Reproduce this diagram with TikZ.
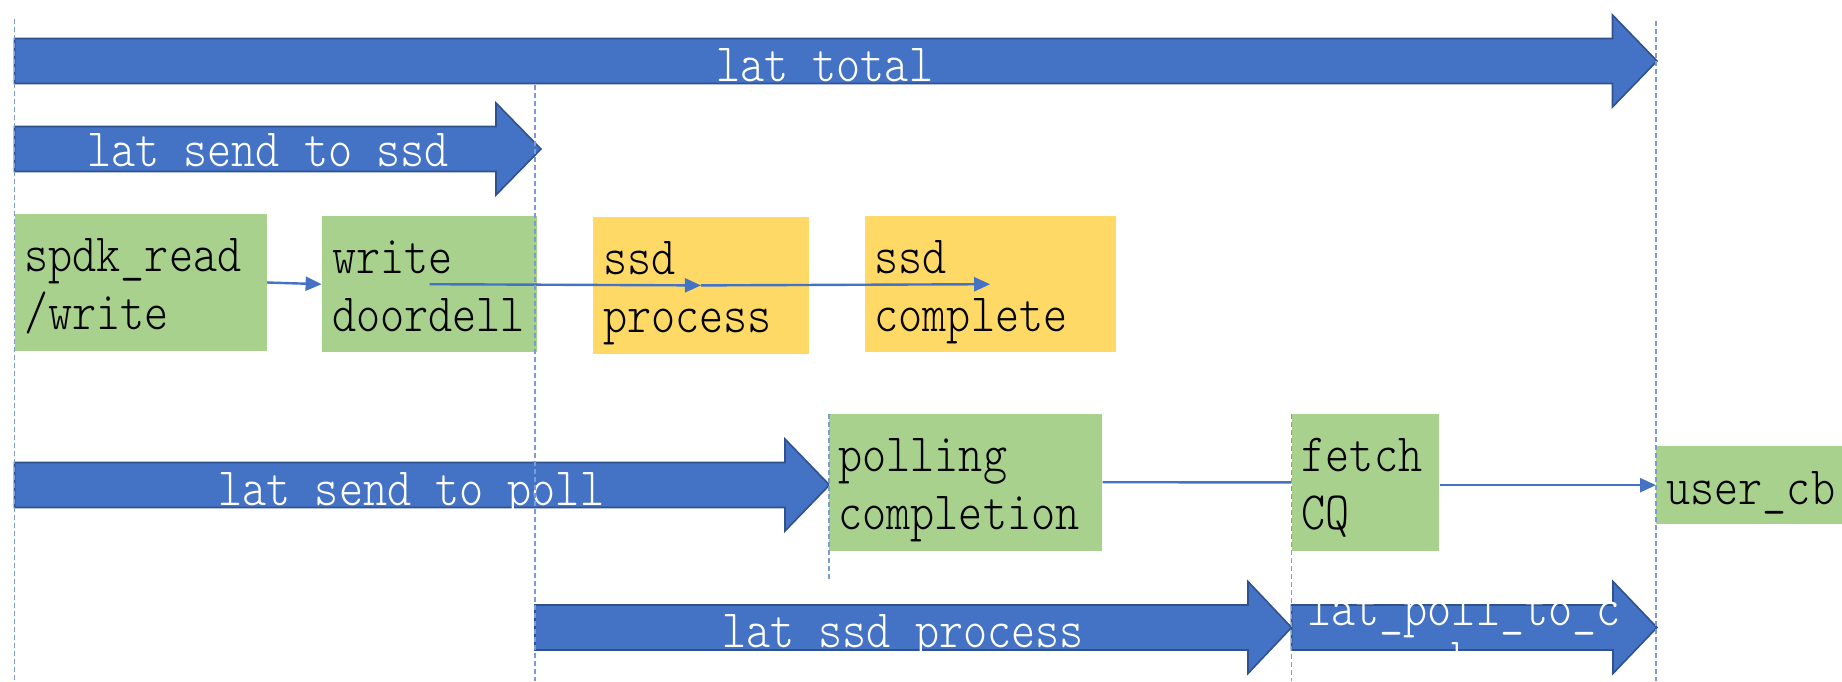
\documentclass[tikz,border=0pt]{standalone}
\usepackage{fontspec}
\usepackage{tikz}
\usetikzlibrary{positioning}
\usetikzlibrary{arrows.meta}
\newfontfamily\labfont{lmmonolt10-regular.otf}[FakeStretch=0.85]

\definecolor{latblue}{HTML}{4472C4}
\definecolor{latedge}{HTML}{2F528F}
\definecolor{stepgreen}{HTML}{A9D18E}
\definecolor{ssdyellow}{HTML}{FFD966}
\definecolor{guideblue}{HTML}{7A9BD6}

\tikzset{
  labtext/.style={font=\labfont\fontsize{27pt}{29pt}\selectfont},
  latarrow/.style={fill=latblue, draw=latedge, line width=0.8pt, line join=miter},
  lattext/.style={labtext, text=white, anchor=base, inner sep=0pt},
  stepbox/.style={labtext, fill=stepgreen, align=left, inner xsep=5pt, inner ysep=5.5pt,
    text height=23.25pt, text depth=34pt},
  ssdbox/.style={stepbox, fill=ssdyellow},
  flow/.style={draw=latblue, line width=1.2pt},
  guide/.style={draw=guideblue, line width=0.75pt, dash pattern=on 2.5pt off 1.5pt}
}

\begin{document}
\begin{tikzpicture}[x=0.5pt,y=-0.5pt,>={Triangle[length=8pt,width=7pt]}]
\useasboundingbox (0,0) rectangle (1842,681);
\clip (0,0) rectangle (1842,681);

% latency arrows
\draw[latarrow] (14.5,38.5) -- (1612.5,38.5) -- (1612.5,15) -- (1657,61) -- (1612.5,107) -- (1612.5,83.5) -- (14.5,83.5) -- cycle;
\draw[latarrow] (14.5,126.5) -- (496,126.5) -- (496,103) -- (541,149) -- (496,195) -- (496,171.5) -- (14.5,171.5) -- cycle;
\draw[latarrow] (14.5,462.5) -- (785,462.5) -- (785,439) -- (829.5,485) -- (785,531) -- (785,507.5) -- (14.5,507.5) -- cycle;
\draw[latarrow] (535,605) -- (1248,605) -- (1248,581.5) -- (1291.5,627.5) -- (1248,673.5) -- (1248,650) -- (535,650) -- cycle;
\draw[latarrow] (1291.5,605) -- (1613,605) -- (1613,581.5) -- (1657,627.5) -- (1613,673.5) -- (1613,650) -- (1291.5,650) -- cycle;

\node[lattext] (total) at (824.7,81) {lat total};
\node[lattext] (send2ssd) at (267.9,166.7) {lat send to ssd};
\node[lattext] (send2poll) at (411.4,505) {lat send to poll};
\node[lattext] (ssdproc) at (903,647.3) {lat ssd process};
\node[lattext, text width=170pt, align=center] (poll2cb) at (1464,625.7) {lat\_poll\_to\_c\\[-4pt]b};

% steps
\node[stepbox, text width=116.1pt] (spdk) at (140.6,282.5) {spdk\_read\\/write};
\node[stepbox, text width=97.5pt] (doorbell) at (429.5,284.2) {write\\doordell};
\node[ssdbox, text width=97.85pt] (process) at (700.9,285.4) {ssd\\process};
\node[ssdbox, text width=115.5pt] (complete) at (990.1,284.2) {ssd\\complete};
\node[stepbox, text width=126.9pt] (polling) at (965.4,482.25) {polling\\completion};
\node[stepbox, text width=63.8pt] (fetch) at (1365.5,482.35) {fetch\\CQ};
\node[stepbox, anchor=west, text width=95pt, inner ysep=0pt, text height=29pt, text depth=10.15pt] (usercb) at (1656,485.15) {user\_cb};

\draw[flow,->] (spdk.east) -- (doorbell.west);
\draw[flow,->] (doorbell.center) -- (process.center);
\draw[flow,->] (process.center) -- (complete.center);
\draw[flow] (polling.east) -- (fetch.west);
\draw[flow,->] (fetch.east |- usercb.west) -- (usercb.west);

% time marks
\draw[guide] (14.5,19) -- (14.5,681);
\draw[guide] (535,85) -- (535,681);
\draw[guide] (829,414) -- (829,580);
\draw[guide] (1291.7,414) -- (1291.7,681);
\draw[guide] (1656,21) -- (1656,681);
\end{tikzpicture}
\end{document}
